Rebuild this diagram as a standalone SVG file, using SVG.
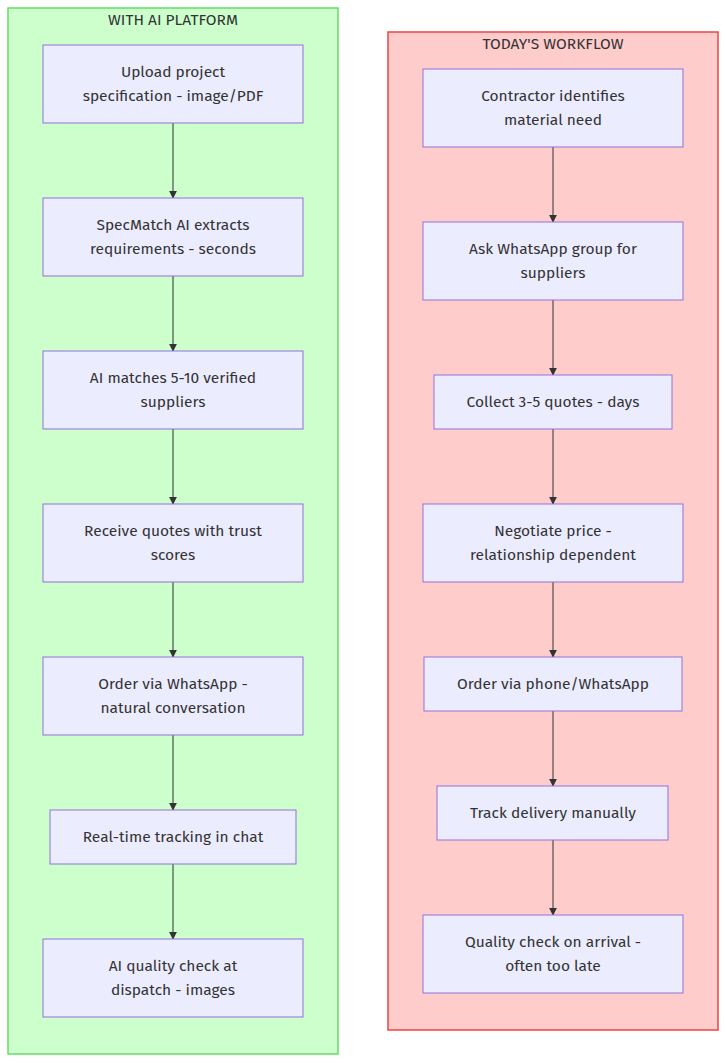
<svg xmlns="http://www.w3.org/2000/svg" width="726" height="1063" viewBox="0 0 726 1063">
<style>
text{font-family:"Fira Sans","Noto Sans","Liberation Sans",sans-serif;font-size:15.5px;fill:#333;text-anchor:middle;dominant-baseline:central}
.n{fill:#ECECFF;stroke:#9370DB;stroke-width:1}
.e{stroke:#333;stroke-width:1;fill:none;marker-end:url(#a)}
</style>
<defs><marker id="a" viewBox="0 0 10 10" refX="9" refY="5" markerWidth="8" markerHeight="8" orient="auto"><path d="M0,0L10,5L0,10z" fill="#333"/></marker></defs>
<g id="clusterAI"><rect x="8" y="8" width="330" height="1046" fill="#ccffcc" stroke="#66dd66" stroke-width="1.5"/><text x="173" y="20">WITH AI PLATFORM</text></g>
<g id="clusterToday"><rect x="388" y="32" width="330" height="998" fill="#ffcccc" stroke="#ee4444" stroke-width="1.5"/><text x="553" y="44">TODAY'S WORKFLOW</text></g>
<g id="connectors">
<path class="e" d="M173,123V198"/><path class="e" d="M173,276V351"/><path class="e" d="M173,429V504"/><path class="e" d="M173,582V657"/><path class="e" d="M173,735V810"/><path class="e" d="M173,864V939"/>
<path class="e" d="M553,147V222"/><path class="e" d="M553,300V375"/><path class="e" d="M553,429V504"/><path class="e" d="M553,582V657"/><path class="e" d="M553,711V786"/><path class="e" d="M553,840V915"/>
</g>
<g id="A1"><rect class="n" x="43" y="45" width="260" height="78"/><text x="173" y="72">Upload project</text><text x="173" y="96">specification - image/PDF</text></g>
<g id="A2"><rect class="n" x="43" y="198" width="260" height="78"/><text x="173" y="225">SpecMatch AI extracts</text><text x="173" y="249">requirements - seconds</text></g>
<g id="A3"><rect class="n" x="43" y="351" width="260" height="78"/><text x="173" y="378">AI matches 5-10 verified</text><text x="173" y="402">suppliers</text></g>
<g id="A4"><rect class="n" x="43" y="504" width="260" height="78"/><text x="173" y="531">Receive quotes with trust</text><text x="173" y="555">scores</text></g>
<g id="A5"><rect class="n" x="43" y="657" width="260" height="78"/><text x="173" y="684">Order via WhatsApp -</text><text x="173" y="708">natural conversation</text></g>
<g id="A6"><rect class="n" x="50" y="810" width="246" height="54"/><text x="173" y="837">Real-time tracking in chat</text></g>
<g id="A7"><rect class="n" x="43" y="939" width="260" height="78"/><text x="173" y="966">AI quality check at</text><text x="173" y="990">dispatch - images</text></g>
<g id="T1"><rect class="n" x="423" y="69" width="260" height="78"/><text x="553" y="96">Contractor identifies</text><text x="553" y="120">material need</text></g>
<g id="T2"><rect class="n" x="423" y="222" width="260" height="78"/><text x="553" y="249">Ask WhatsApp group for</text><text x="553" y="273">suppliers</text></g>
<g id="T3"><rect class="n" x="434" y="375" width="238" height="54"/><text x="553" y="402">Collect 3-5 quotes - days</text></g>
<g id="T4"><rect class="n" x="423" y="504" width="260" height="78"/><text x="553" y="531">Negotiate price -</text><text x="553" y="555">relationship dependent</text></g>
<g id="T5"><rect class="n" x="424" y="657" width="258" height="54"/><text x="553" y="684">Order via phone/WhatsApp</text></g>
<g id="T6"><rect class="n" x="437" y="786" width="231" height="54"/><text x="553" y="813">Track delivery manually</text></g>
<g id="T7"><rect class="n" x="423" y="915" width="260" height="78"/><text x="553" y="942">Quality check on arrival -</text><text x="553" y="966">often too late</text></g>
</svg>
